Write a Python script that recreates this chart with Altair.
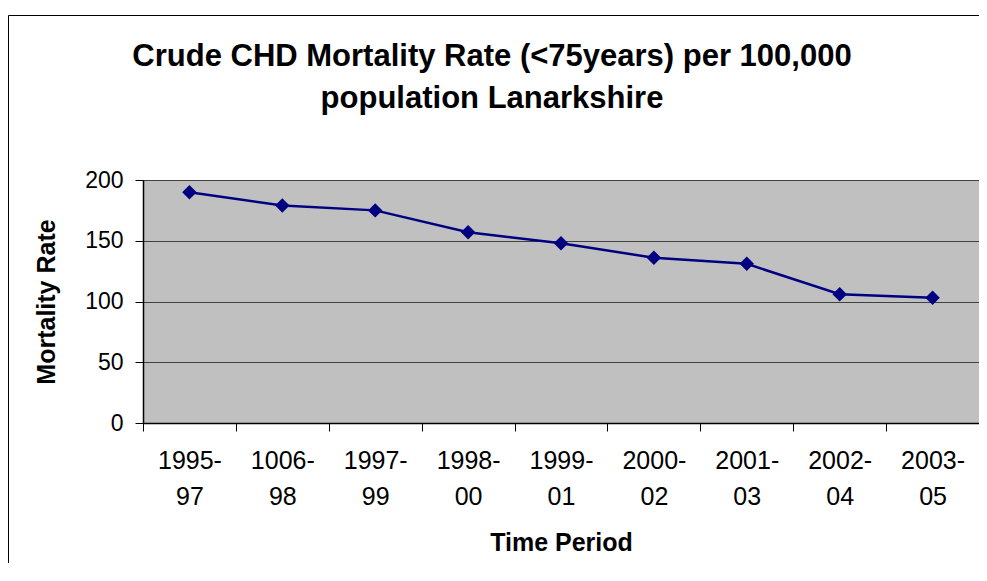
import altair as alt
import pandas as pd

periods = ["1995-97", "1006-98", "1997-99", "1998-00", "1999-01",
           "2000-02", "2001-03", "2002-04", "2003-05"]
rates = [190, 179, 175, 157, 148, 136, 131, 106, 103]
y_ticks = [0, 50, 100, 150, 200]

df = pd.DataFrame({"period": periods, "rate": rates})

FONT = "Liberation Sans"
W, H = 836, 243

x_enc = alt.X(
    "period:N", sort=None,
    scale=alt.Scale(paddingInner=0, paddingOuter=0),
    axis=alt.Axis(
        title="Time Period", titleFont=FONT, titleFontSize=25, titleFontWeight="bold",
        titleColor="black", titlePadding=21,
        labelFont=FONT, labelFontSize=25, labelColor="black", labelAngle=0,
        labelExpr="[substring(datum.label, 0, 5), substring(datum.label, 5)]",
        labelLineHeight=36, labelPadding=17, labelBaseline="top",
        tickBand="extent", tickSize=8, tickColor="black",
        domainColor="black", domainWidth=1.5, grid=False,
    ),
)
y_enc = alt.Y(
    "rate:Q",
    scale=alt.Scale(domain=[0, 200]),
    axis=alt.Axis(
        title="Mortality Rate", titleFont=FONT, titleFontSize=25, titleFontWeight="bold",
        titleColor="black", titlePadding=25,
        values=y_ticks, labelFont=FONT, labelFontSize=23, labelColor="black",
        labelPadding=12, tickSize=8, tickColor="black",
        domainColor="black", domainWidth=1.5,
        grid=True, gridColor="#404040", gridWidth=1,
    ),
)

line = alt.Chart(df).mark_line(
    color="#000080", strokeWidth=2.5,
    point=alt.OverlayMarkDef(shape="diamond", size=210, filled=True,
                             color="#000080", opacity=1),
).encode(x=x_enc, y=y_enc)

border = alt.Chart(pd.DataFrame({"a": [0]})).mark_rect(
    filled=False, stroke="black", strokeWidth=1, clip=False,
).encode(
    x=alt.value(-134.5), x2=alt.value(W + 200),
    y=alt.value(-164.5), y2=alt.value(H + 400),
)

chart = alt.layer(border, line).properties(
    width=W, height=H,
    autosize=alt.AutoSizeParams(type="none"),
    padding={"left": 135, "top": 172, "right": 0, "bottom": 140},
    title=alt.TitleParams(
        text=["Crude CHD Mortality Rate (<75years) per 100,000",
              "population Lanarkshire"],
        font=FONT, fontSize=31, fontWeight="bold", color="black",
        anchor="middle", dx=-69, offset=-100, lineHeight=42,
    ),
).configure(background="white").configure_view(
    fill="#C0C0C0", stroke="#808080", strokeWidth=1,
)

chart.save("out.html", embed_options={"renderer": "svg", "actions": False})
